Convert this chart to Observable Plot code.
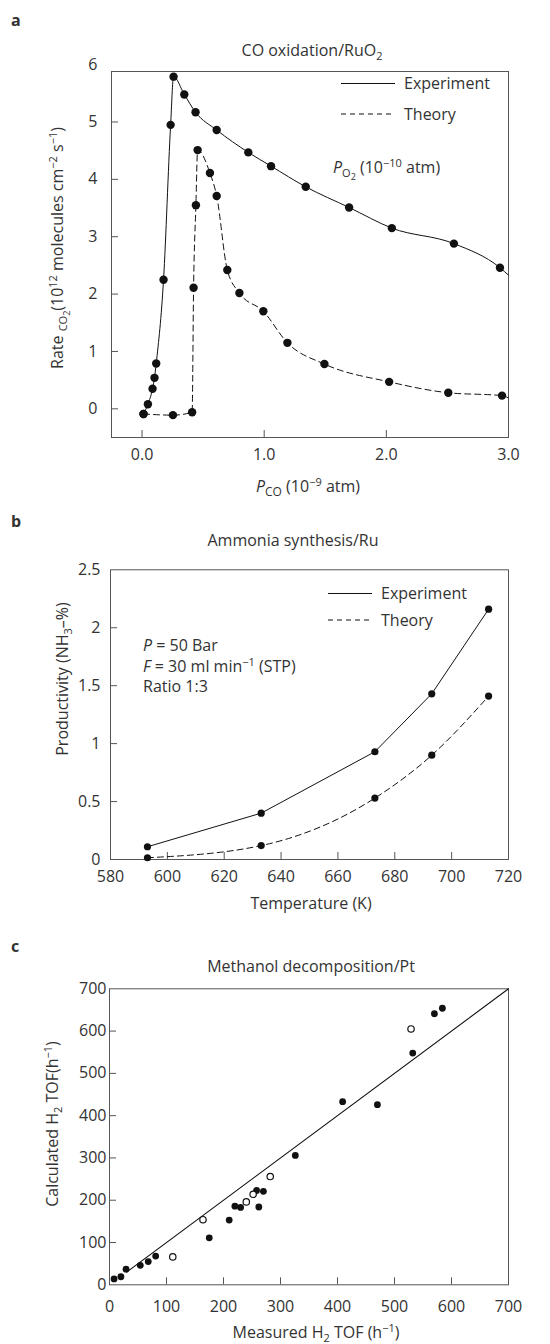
<!DOCTYPE html>
<html><head><meta charset="utf-8">
<script src="https://cdn.jsdelivr.net/npm/d3@7"></script>
<script src="https://cdn.jsdelivr.net/npm/@observablehq/plot@0.6"></script>
<style>body{margin:0;background:#fff;} #chart svg{display:block;}</style>
</head><body><div id="chart"></div>
<script>
// ---------- Panel a: CO oxidation / RuO2 ----------
const aExpP    = [0.012, 0.048, 0.086, 0.102, 0.116, 0.176, 0.234, 0.258, 0.346, 0.438, 0.611, 0.870, 1.056, 1.340, 1.695, 2.045, 2.553, 2.930];
const aExpRate = [-0.09, 0.08, 0.35, 0.54, 0.79, 2.25, 4.95, 5.79, 5.48, 5.17, 4.86, 4.47, 4.23, 3.87, 3.51, 3.15, 2.88, 2.46];
const aExpEnd  = [3.0, 2.33];
const aThP     = [0.012, 0.253, 0.410, 0.422, 0.441, 0.455, 0.556, 0.611, 0.698, 0.797, 0.993, 1.190, 1.493, 2.023, 2.507, 2.947];
const aThRate  = [-0.09, -0.11, -0.06, 2.11, 3.55, 4.51, 4.11, 3.71, 2.42, 2.02, 1.70, 1.15, 0.78, 0.47, 0.28, 0.23];
const aThEnd   = [3.0, 0.19];
const aXTicks  = [0, 1, 2, 3];
const aYTicks  = [0, 1, 2, 3, 4, 5, 6];

// ---------- Panel b: Ammonia synthesis / Ru ----------
const bTemp    = [593, 633, 673, 693, 713];
const bExp     = [0.11, 0.40, 0.93, 1.43, 2.16];
const bTheory  = [0.015, 0.12, 0.53, 0.90, 1.41];
const bXTicks  = [580, 600, 620, 640, 660, 680, 700, 720];
const bYTicks  = [0, 0.5, 1, 1.5, 2, 2.5];

// ---------- Panel c: Methanol decomposition / Pt ----------
const cFilledMeasured = [8, 20, 29, 54, 68, 81, 175, 210, 220, 230, 258, 262, 270, 326, 409, 470, 532, 570, 584];
const cFilledCalc     = [14, 19, 37, 46, 55, 68, 111, 153, 186, 183, 223, 184, 221, 306, 433, 426, 548, 641, 654];
const cOpenMeasured   = [111, 164, 240, 252, 282, 529];
const cOpenCalc       = [66, 154, 196, 214, 256, 605];
const cParity         = [30, 700];
const cTicks          = [0, 100, 200, 300, 400, 500, 600, 700];

const FONT = "'Open Sans', 'Noto Sans', sans-serif";
const TXT = "#333";
const FRAME = "#555";
const INK = "#111";
const zip = (xs, ys) => xs.map((x, i) => ({x, y: ys[i]}));

function rich(g, x, y, parts, opts = {}) {
  const t = g.append("text").attr("x", x).attr("y", y)
    .attr("font-size", opts.size || 16).attr("fill", TXT).attr("font-family", FONT)
    .attr("text-anchor", opts.anchor || "start");
  if (opts.rotate) t.attr("transform", `rotate(-90 ${x} ${y})`);
  if (opts.weight) t.attr("font-weight", opts.weight);
  let cur = 0;
  for (const p of parts) {
    const [s, shift = 0, size, style] = typeof p === "string" ? [p] : p;
    const ts = t.append("tspan").text(s).attr("dy", shift - cur);
    cur = shift;
    if (size) ts.attr("font-size", size);
    if (style) ts.attr("font-style", style);
  }
  return t;
}
function legend(g, x1, x2, y, dash, label) {
  g.append("line").attr("x1", x1).attr("x2", x2).attr("y1", y).attr("y2", y)
    .attr("stroke", INK).attr("stroke-width", 1).attr("stroke-dasharray", dash);
  rich(g, x2 + 9, y + 5.5, [label]);
}
function base(o) {
  return {width: 550, style: {fontFamily: FONT, fontSize: "16px", color: TXT, background: "white"}, ...o};
}
const root = document.getElementById("chart");

// ----- Panel a -----
{
  const H = 505, mt = 71, mb = 68, ml = 111, mr = 42;
  const ih = H - mt - mb, iw = 550 - ml - mr;
  const expLine = zip([...aExpP, aExpEnd[0]], [...aExpRate, aExpEnd[1]]);
  const thLine = zip([...aThP, aThEnd[0]], [...aThRate, aThEnd[1]]);
  const svg = Plot.plot(base({
    height: H, marginTop: mt, marginBottom: mb, marginLeft: ml, marginRight: mr,
    x: {domain: [-0.25, 3.0]},
    y: {domain: [-0.5, 5.88]},
    marks: [
      Plot.axisX(aXTicks, {tickSize: 0, tickPadding: 11, tickFormat: d3.format(".1f"), label: null}),
      Plot.axisY(aYTicks, {tickSize: 0, tickPadding: 14, tickFormat: d => String(d), label: null}),
      Plot.tickX(aXTicks.slice(0, 3), {x: d => d, insetTop: ih - 7, stroke: FRAME}),
      Plot.tickY(aYTicks.slice(0, 6), {y: d => d, insetRight: iw - 7, stroke: FRAME}),
      Plot.frame({stroke: FRAME}),
      Plot.line(expLine, {x: "x", y: "y", curve: "monotone-x", stroke: INK, strokeWidth: 1}),
      Plot.line(thLine, {x: "x", y: "y", curve: "monotone-x", stroke: INK, strokeWidth: 1, strokeDasharray: "6,4"}),
      Plot.dot(zip(aExpP, aExpRate), {x: "x", y: "y", r: 4.2, fill: INK}),
      Plot.dot(zip(aThP, aThRate), {x: "x", y: "y", r: 4.2, fill: INK})
    ]
  }));
  root.appendChild(svg);
  const g = d3.select(svg).append("g");
  rich(g, 11, 26, ["a"], {weight: "bold", size: 16});
  rich(g, 312, 56, ["CO oxidation/RuO", ["2", 4, 11]], {anchor: "middle"});
  legend(g, 341, 395, 83.5, null, "Experiment");
  legend(g, 341, 395, 114, "5,4", "Theory");
  rich(g, 333, 173, [["P", 0, null, "italic"], ["O", 4, 11], ["2", 7, 9], [" (10", 0], ["−10", -6, 11], [" atm)", 0]]);
  rich(g, 63, 248, ["Rate ", ["CO", 4, 11], ["2", 7, 9], ["(10", 0], ["12", -6, 11], [" molecules cm", 0], ["−2", -6, 11], [" s", 0], ["−1", -6, 11], [")", 0]], {anchor: "middle", rotate: true});
  rich(g, 308, 492, [["P", 0, null, "italic"], ["CO", 4, 12], [" (10", 0], ["−9", -6, 11], [" atm)", 0]], {anchor: "middle"});
}

// ----- Panel b -----
{
  const top = 505;
  const H = 420, mt = 569.3 - top, mb = H - (859 - top), ml = 110, mr = 42;
  const ih = H - mt - mb, iw = 550 - ml - mr;
  const svg = Plot.plot(base({
    height: H, marginTop: mt, marginBottom: mb, marginLeft: ml, marginRight: mr,
    x: {domain: [580, 720]},
    y: {domain: [0, 2.5]},
    marks: [
      Plot.axisX(bXTicks, {tickSize: 0, tickPadding: 11, tickFormat: d => String(d), label: null}),
      Plot.axisY(bYTicks, {tickSize: 0, tickPadding: 10, tickFormat: d => String(d), label: null}),
      Plot.tickX(bXTicks.slice(1, -1), {x: d => d, insetTop: ih - 7, stroke: FRAME}),
      Plot.tickY(bYTicks.slice(1, -1), {y: d => d, insetRight: iw - 7, stroke: FRAME}),
      Plot.frame({stroke: FRAME}),
      Plot.line(zip(bTemp, bExp), {x: "x", y: "y", stroke: INK, strokeWidth: 1}),
      Plot.line(zip(bTemp, bTheory), {x: "x", y: "y", curve: "monotone-x", stroke: INK, strokeWidth: 1, strokeDasharray: "6,4"}),
      Plot.dot(zip(bTemp, bExp), {x: "x", y: "y", r: 3.6, fill: INK}),
      Plot.dot(zip(bTemp, bTheory), {x: "x", y: "y", r: 3.6, fill: INK})
    ]
  }));
  root.appendChild(svg);
  const g = d3.select(svg).append("g").attr("transform", `translate(0,${-top})`);
  rich(g, 11, 527, ["b"], {weight: "bold", size: 16});
  rich(g, 293, 546, ["Ammonia synthesis/Ru"], {anchor: "middle"});
  legend(g, 328, 372, 593.5, null, "Experiment");
  legend(g, 328, 372, 620, "5,4", "Theory");
  rich(g, 143, 651, [["P", 0, null, "italic"], [" = 50 Bar", 0]]);
  rich(g, 143, 672, [["F", 0, null, "italic"], [" = 30 ml min", 0], ["−1", -6, 11], [" (STP)", 0]]);
  rich(g, 143, 692, ["Ratio 1:3"]);
  rich(g, 68, 679, ["Productivity (NH", ["3", 4, 11], ["–%)", 0]], {anchor: "middle", rotate: true});
  rich(g, 311, 908.5, ["Temperature (K)"], {anchor: "middle"});
}

// ----- Panel c -----
{
  const top = 925;
  const H = 419, mt = 988.3 - top, mb = H - (1284.3 - top), ml = 109, mr = 42;
  const ih = H - mt - mb, iw = 550 - ml - mr;
  const svg = Plot.plot(base({
    height: H, marginTop: mt, marginBottom: mb, marginLeft: ml, marginRight: mr,
    x: {domain: [0, 700]},
    y: {domain: [0, 700]},
    marks: [
      Plot.axisX(cTicks, {tickSize: 0, tickPadding: 16, tickFormat: d => String(d), label: null}),
      Plot.axisY(cTicks, {tickSize: 0, tickPadding: 3, tickFormat: d => String(d), label: null}),
      Plot.tickX(cTicks.slice(1, -1), {x: d => d, insetTop: ih - 7, stroke: FRAME}),
      Plot.tickY(cTicks.slice(1, -1), {y: d => d, insetRight: iw - 7, stroke: FRAME}),
      Plot.frame({stroke: FRAME}),
      Plot.line(zip(cParity, cParity), {x: "x", y: "y", stroke: INK, strokeWidth: 1.1}),
      Plot.dot(zip(cFilledMeasured, cFilledCalc), {x: "x", y: "y", r: 3.4, fill: INK}),
      Plot.dot(zip(cOpenMeasured, cOpenCalc), {x: "x", y: "y", r: 3.2, fill: "white", stroke: INK, strokeWidth: 1.2})
    ]
  }));
  root.appendChild(svg);
  const g = d3.select(svg).append("g").attr("transform", `translate(0,${-top})`);
  rich(g, 11, 952, ["c"], {weight: "bold", size: 16});
  rich(g, 311, 972, ["Methanol decomposition/Pt"], {anchor: "middle"});
  rich(g, 58, 1124, ["Calculated H", ["2", 4, 11], [" TOF(h", 0], ["−1", -6, 11], [")", 0]], {anchor: "middle", rotate: true});
  rich(g, 316, 1338, ["Measured H", ["2", 4, 11], [" TOF (h", 0], ["−1", -6, 11], [")", 0]], {anchor: "middle"});
}
</script>
</body></html>
